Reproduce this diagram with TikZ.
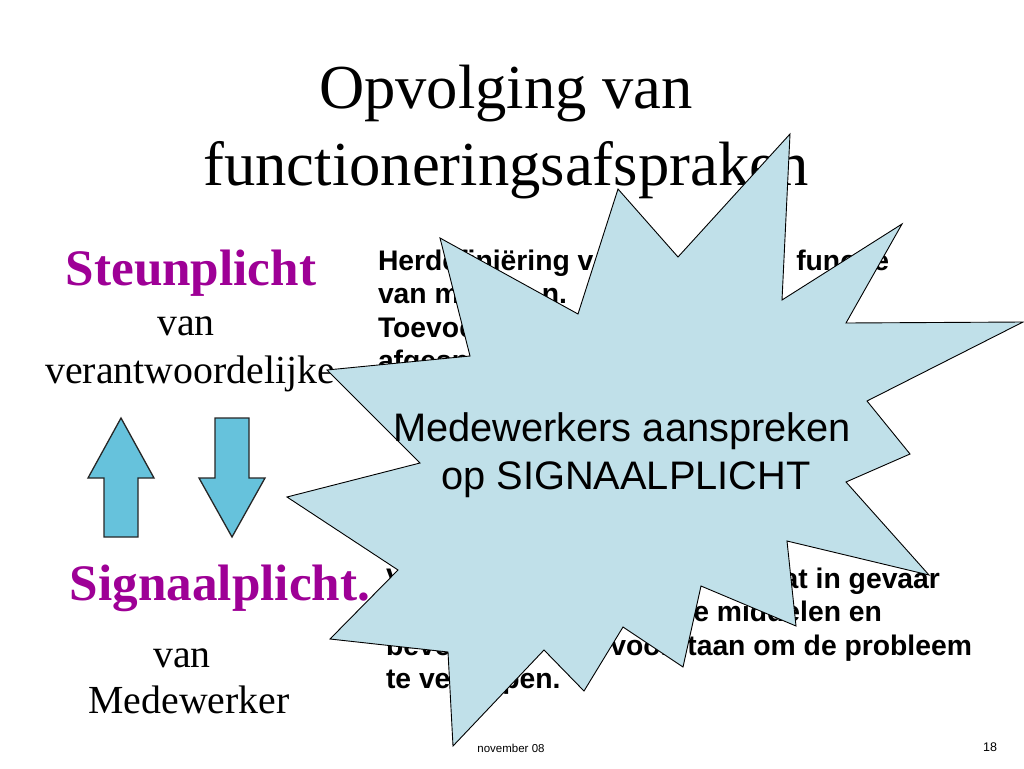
\documentclass[tikz,border=0pt]{standalone}
\usepackage{fontspec}
\setmainfont{Liberation Serif}
\newfontfamily\arialfont{Liberation Sans}
\definecolor{starblue}{RGB}{192,224,233}
\definecolor{arrowblue}{RGB}{102,194,220}
\definecolor{plum}{RGB}{158,0,150}
\tikzset{
  txt/.style={inner sep=0pt, outer sep=0pt},
  titletxt/.style={txt, anchor=base, font=\fontsize{62.6pt}{75pt}\selectfont},
  headtxt/.style={txt, anchor=base, text=plum, font=\fontsize{51.2pt}{60pt}\selectfont\bfseries},
  subtxt/.style={txt, anchor=base, font=\fontsize{39.8pt}{48pt}\selectfont},
  bodyL/.style={txt, anchor=base west, font=\arialfont\fontsize{28.3pt}{33pt}\selectfont\bfseries},
  bodyR/.style={txt, anchor=base east, font=\arialfont\fontsize{28.3pt}{33pt}\selectfont\bfseries},
  startxt/.style={txt, anchor=base, font=\arialfont\fontsize{39.8pt}{48pt}\selectfont},
  startshape/.style={fill=starblue, draw=black, line width=0.9pt, line join=miter},
  blockarrow/.style={fill=arrowblue, draw=black!85, line width=1.3pt, line join=miter},
  foot/.style={txt, font=\arialfont\fontsize{11.5pt}{14pt}\selectfont}
}
\begin{document}
\begin{tikzpicture}[x=1pt,y=-1pt]
\useasboundingbox (0,0) rectangle (1024,768);
\fill[white] (0,0) rectangle (1024,768);

% title
\node[titletxt] (title1) at (506,108) {Opvolging van};
\node[titletxt] (title2) at (506,185) {functioneringsafspraken};

% left column
\node[headtxt] (steun) at (191,285) {Steunplicht};
\node[subtxt] (van1) at (186,335) {van};
\node[subtxt] (verant) at (190,383) {verantwoordelijke};
\node[headtxt] (signaal) at (220,600) {Signaalplicht.};
\node[subtxt] (van2) at (182,667) {van};
\node[subtxt] (medew) at (189,713) {Medewerker};

% arrows
\draw[blockarrow] (121,418) -- (154,478) -- (138,478) -- (138,537) -- (104,537) -- (104,478) -- (88,478) -- cycle;
\draw[blockarrow] (215,418) -- (249,418) -- (249,478) -- (265,478) -- (232,537) -- (199,478) -- (215,478) -- cycle;

% right text, upper block
\node[bodyL] (a1) at (378,270) {Herdefiniëring v};
\node[bodyR] (a1r) at (889,270) {functie};
\node[bodyL] (a2) at (378,303) {van m};
\node[bodyR] (a2r) at (567,303) {n.};
\node[bodyL] (a3) at (378,337) {Toevoegen};
\node[bodyL] (a4) at (378,370) {afgesproken};

% right text, lower block
\node[bodyL] (b1) at (386,588) {V};
\node[bodyR] (b1r) at (940,588) {staat in gevaar};
\node[bodyR] (b2r) at (882,621) {e middelen en};
\node[bodyL] (b3) at (386,655) {bevestigen};
\node[bodyR] (b3r) at (972,655) {t voorstaan om de probleem};
\node[bodyL] (b4) at (386,688) {te verhelpen.};

% star
\draw[startshape] (790,134) -- (782,300) -- (902,224) -- (846,323) -- (1023,322)
  -- (867,401) -- (910,454) -- (846,482) -- (929,575) -- (787,541) -- (796,626)
  -- (701,586) -- (683,667) -- (623,627) -- (584,691) -- (544,650) -- (453,746)
  -- (448,652) -- (330,639) -- (398,570) -- (287,497) -- (420,463) -- (327,370)
  -- (470,356) -- (440,238) -- (578,314) -- (618,189) -- (678,257) -- cycle;
\node[startxt] (s1) at (622,441) {Medewerkers aanspreken};
\node[startxt] (s2) at (626,489) {op SIGNAALPLICHT};

% footer
\node[foot, anchor=base] (date) at (511,752) {november 08};
\node[foot, anchor=base east, font=\arialfont\fontsize{12.5pt}{15pt}\selectfont] (page) at (997,751) {18};
\end{tikzpicture}
\end{document}
